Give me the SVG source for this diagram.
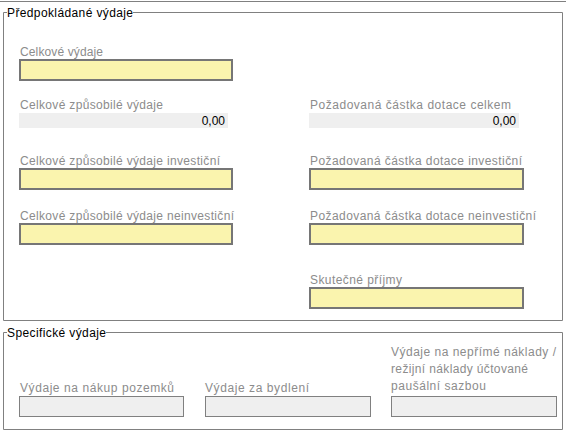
<svg xmlns="http://www.w3.org/2000/svg" width="566" height="434" viewBox="0 0 566 434">
<style>
text{font-family:"Liberation Sans",Arial,sans-serif;font-size:12px}
.lbl{fill:#8c8c8c}
.leg{fill:#000}
.val{fill:#000;text-anchor:end}
.fs{fill:none;stroke:#808080;stroke-width:1}
.yin{fill:#faf4ae;stroke:#767676;stroke-width:2}
.ro{fill:#efefef}
.gin{fill:#efefef;stroke:#808080;stroke-width:1}
</style>
<rect x="0" y="0" width="566" height="434" fill="#ffffff"/>
<line x1="0" y1="1.5" x2="566" y2="1.5" stroke="#808080"/>
<g id="fieldset-predpokladane">
<path class="fs" d="M7,12.5 H3.5 V320.5 H562.5 V12.5 H133"/>
<text class="leg" x="7" y="17" textLength="126" lengthAdjust="spacing">Předpokládané výdaje</text>
</g>
<g id="celkove-vydaje">
<text class="lbl" x="20" y="56" textLength="83" lengthAdjust="spacing">Celkové výdaje</text>
<rect class="yin" x="20" y="60" width="212" height="20"/>
</g>
<g id="celkove-zpusobile">
<text class="lbl" x="20" y="109" textLength="143" lengthAdjust="spacing">Celkové způsobilé výdaje</text>
<rect class="ro" x="19" y="113" width="209" height="15"/>
<text class="val" x="225" y="125">0,00</text>
</g>
<g id="pozadovana-celkem">
<text class="lbl" x="310" y="109" textLength="201" lengthAdjust="spacing">Požadovaná částka dotace celkem</text>
<rect class="ro" x="309" y="113" width="210" height="15"/>
<text class="val" x="516" y="125">0,00</text>
</g>
<g id="celkove-zpusobile-investicni">
<text class="lbl" x="20" y="165" textLength="200" lengthAdjust="spacing">Celkové způsobilé výdaje investiční</text>
<rect class="yin" x="20" y="169" width="212" height="20"/>
</g>
<g id="pozadovana-investicni">
<text class="lbl" x="310" y="165" textLength="212" lengthAdjust="spacing">Požadovaná částka dotace investiční</text>
<rect class="yin" x="310" y="169" width="213" height="20"/>
</g>
<g id="celkove-zpusobile-neinvesticni">
<text class="lbl" x="20" y="220" textLength="214" lengthAdjust="spacing">Celkové způsobilé výdaje neinvestiční</text>
<rect class="yin" x="20" y="224" width="212" height="20"/>
</g>
<g id="pozadovana-neinvesticni">
<text class="lbl" x="310" y="220" textLength="226" lengthAdjust="spacing">Požadovaná částka dotace neinvestiční</text>
<rect class="yin" x="310" y="224" width="213" height="20"/>
</g>
<g id="skutecne-prijmy">
<text class="lbl" x="310" y="284" textLength="92" lengthAdjust="spacing">Skutečné příjmy</text>
<rect class="yin" x="310" y="288" width="213" height="20"/>
</g>
<g id="fieldset-specificke">
<path class="fs" d="M7,332.5 H3.5 V429.5 H562.5 V332.5 H106"/>
<text class="leg" x="7" y="337" textLength="99" lengthAdjust="spacing">Specifické výdaje</text>
</g>
<g id="nakup-pozemku">
<text class="lbl" x="20" y="392" textLength="154" lengthAdjust="spacing">Výdaje na nákup pozemků</text>
<rect class="gin" x="19.5" y="396.5" width="164" height="20"/>
</g>
<g id="bydleni">
<text class="lbl" x="205" y="392" textLength="104" lengthAdjust="spacing">Výdaje za bydlení</text>
<rect class="gin" x="205.5" y="396.5" width="165" height="20"/>
</g>
<g id="neprime-naklady">
<text class="lbl" x="391" y="356" textLength="165" lengthAdjust="spacing">Výdaje na nepřímé náklady /</text>
<text class="lbl" x="391" y="373" textLength="137" lengthAdjust="spacing">režijní náklady účtované</text>
<text class="lbl" x="391" y="390" textLength="95" lengthAdjust="spacing">paušální sazbou</text>
<rect class="gin" x="391.5" y="396.5" width="165" height="20"/>
</g>
<g id="connectors"></g>
</svg>
